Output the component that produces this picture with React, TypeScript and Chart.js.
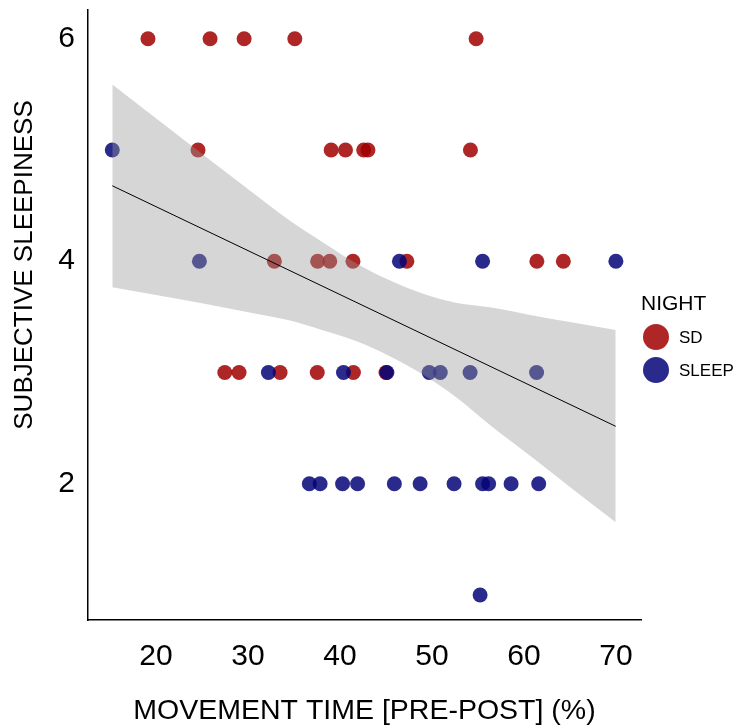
import React, { useEffect, useRef } from "react";
import { Chart, registerables } from "chart.js";

Chart.register(...registerables);

// ---- data ----
const sdX = [19.13, 25.88, 29.58, 35.09, 54.8, 24.57, 39.04, 40.6, 42.58, 43.04, 54.18, 32.87, 37.57, 38.89, 41.41, 47.27, 61.4, 64.28, 27.48, 29.03, 33.49, 37.53, 41.46, 45.0];
const sdY = [6, 6, 6, 6, 6, 5, 5, 5, 5, 5, 5, 4, 4, 4, 4, 4, 4, 4, 3, 3, 3, 3, 3, 3];
const sleepX = [15.25, 24.72, 46.46, 55.5, 69.99, 32.22, 40.38, 45.1, 49.7, 50.9, 54.14, 61.37, 36.67, 37.84, 40.28, 41.91, 45.91, 48.71, 52.4, 55.5, 56.16, 58.6, 61.6, 55.23];
const sleepY = [5, 4, 4, 4, 4, 3, 3, 3, 3, 3, 3, 3, 2, 2, 2, 2, 2, 2, 2, 2, 2, 2, 2, 1];

const fitX = [15.25, 69.97];
const fitY = [4.678, 2.516];

const bandX = [15.25, 22, 29.46, 34.57, 38.2, 41.8, 45.4, 49.05, 52.7, 56.3, 61.4, 65, 69.97];
const bandUpper = [5.589, 5.156, 4.683, 4.364, 4.167, 3.98, 3.828, 3.707, 3.625, 3.587, 3.506, 3.453, 3.381];
const bandLower = [3.767, 3.666, 3.551, 3.466, 3.377, 3.28, 3.146, 2.979, 2.773, 2.527, 2.204, 1.97, 1.653];

const xTicks = [20, 30, 40, 50, 60, 70];
const yTicks = [2, 4, 6];

const seriesNames = ["SD", "SLEEP"];
const legendTitle = "NIGHT";
const xTitle = "MOVEMENT TIME [PRE-POST] (%)";
const yTitle = "SUBJECTIVE SLEEPINESS";

const RED = "rgba(160,0,0,0.85)";
const BLUE = "rgba(5,5,120,0.85)";
const FONT = "'Liberation Sans', Arial, sans-serif";

const zip = (xs: number[], ys: number[]) => xs.map((x, i) => ({ x, y: ys[i] }));

const textPlugin = {
  id: "nightLegend",
  afterDraw(chart: any) {
    const ctx = chart.ctx;
    ctx.save();
    // y axis title
    ctx.fillStyle = "#000";
    ctx.textBaseline = "middle";
    ctx.textAlign = "center";
    ctx.font = `26px ${FONT}`;
    ctx.translate(25, 265);
    ctx.rotate(-Math.PI / 2);
    ctx.fillText(yTitle, 0, 0);
    ctx.restore();

    ctx.save();
    ctx.fillStyle = "#000";
    ctx.textBaseline = "middle";
    ctx.textAlign = "left";
    ctx.font = `21px ${FONT}`;
    ctx.fillText(legendTitle, 641, 304);
    const cols = [RED, BLUE];
    const ys = [337, 370];
    seriesNames.forEach((name, i) => {
      ctx.beginPath();
      ctx.fillStyle = cols[i];
      ctx.arc(656, ys[i], 13, 0, Math.PI * 2);
      ctx.fill();
      ctx.fillStyle = "#000";
      ctx.font = `17px ${FONT}`;
      ctx.fillText(name, 679, ys[i] + 1);
    });
    ctx.restore();
  },
};

export default function App() {
  const ref = useRef<HTMLCanvasElement | null>(null);

  useEffect(() => {
    document.body.style.margin = "0";
    if (!ref.current) return;
    const chart = new Chart(ref.current, {
      type: "line",
      data: {
        datasets: [
          {
            label: "fit",
            data: zip(fitX, fitY),
            borderColor: "#000",
            borderWidth: 1,
            pointRadius: 0,
            fill: false,
            order: 0,
          },
          {
            label: "upper",
            data: zip(bandX, bandUpper),
            borderWidth: 0,
            borderColor: "rgba(0,0,0,0)",
            pointRadius: 0,
            fill: false,
            cubicInterpolationMode: "monotone",
            order: 1,
          },
          {
            label: "lower",
            data: zip(bandX, bandLower),
            borderWidth: 0,
            borderColor: "rgba(0,0,0,0)",
            backgroundColor: "rgba(153,153,153,0.4)",
            pointRadius: 0,
            fill: "-1",
            cubicInterpolationMode: "monotone",
            order: 1,
          },
          {
            label: seriesNames[0],
            data: zip(sdX, sdY),
            showLine: false,
            pointRadius: 7.5,
            pointBorderWidth: 0,
            pointBackgroundColor: RED,
            pointBorderColor: RED,
            order: 3,
          },
          {
            label: seriesNames[1],
            data: zip(sleepX, sleepY),
            showLine: false,
            pointRadius: 7.5,
            pointBorderWidth: 0,
            pointBackgroundColor: BLUE,
            pointBorderColor: BLUE,
            order: 2,
          },
        ],
      } as any,
      options: {
        animation: false,
        responsive: false,
        devicePixelRatio: 1,
        layout: { padding: { left: 0, right: 94, top: 10, bottom: 0 } },
        plugins: {
          legend: { display: false },
          tooltip: { enabled: false },
        },
        scales: {
          x: {
            type: "linear",
            min: 12.61,
            max: 72.72,
            grid: { display: false, drawTicks: false },
            border: { display: true, color: "#000", width: 1.5 },
            afterBuildTicks: (s: any) => {
              s.ticks = xTicks.map((v) => ({ value: v }));
            },
            afterFit: (s: any) => {
              s.height = 106;
              s.paddingLeft = 0;
              s.paddingRight = 0;
            },
            ticks: {
              color: "#000",
              padding: 19,
              font: { family: FONT, size: 30, lineHeight: 1.2 },
              callback: (v: any) => String(v),
            },
            title: {
              display: true,
              text: xTitle,
              color: "#000",
              font: { family: FONT, size: 28.5, lineHeight: 1 },
              padding: { top: 0, bottom: 1 },
            },
          },
          y: {
            type: "linear",
            min: 0.775,
            max: 6.258,
            grid: { display: false, drawTicks: false },
            border: { display: true, color: "#000", width: 1.5 },
            afterBuildTicks: (s: any) => {
              s.ticks = yTicks.map((v) => ({ value: v }));
            },
            afterFit: (s: any) => {
              s.width = 88;
              s.paddingTop = 0;
              s.paddingBottom = 0;
            },
            ticks: {
              color: "#000",
              padding: 13,
              font: { family: FONT, size: 30 },
              callback: (v: any) => String(v),
            },
            title: { display: false },
          },
        },
      } as any,
      plugins: [textPlugin],
    });
    return () => chart.destroy();
  }, []);

  return (
    <div style={{ width: 735, height: 726, position: "relative" }}>
      <canvas ref={ref} width={735} height={726} style={{ display: "block" }} />
    </div>
  );
}
